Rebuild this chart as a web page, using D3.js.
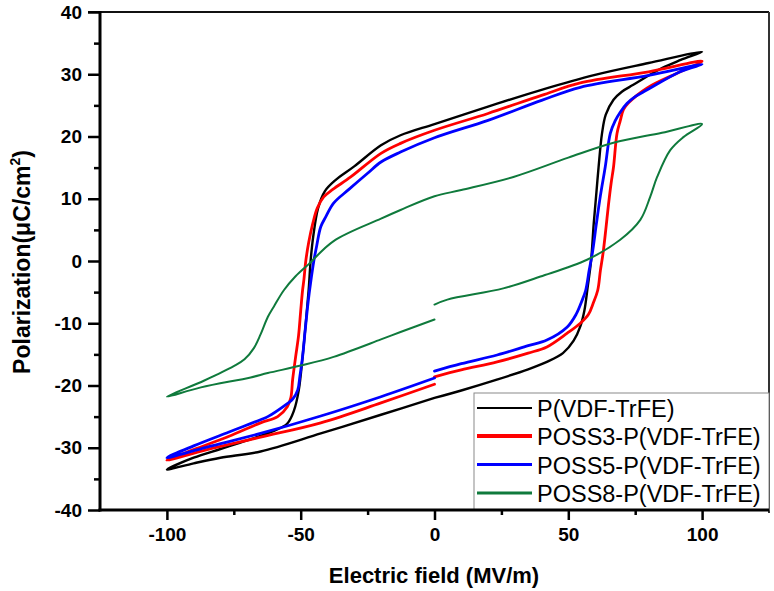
<!DOCTYPE html>
<html>
<head>
<meta charset="utf-8">
<script src="https://cdn.jsdelivr.net/npm/d3@7"></script>
<style>
  html, body { margin: 0; padding: 0; background: #fff; }
  svg { display: block; font-family: Arial, "Liberation Sans", sans-serif; }
</style>
</head>
<body>
<svg id="chart" width="774" height="591"></svg>
<script>
// ---------------- data ----------------
const seriesNames = ["P(VDF-TrFE)", "POSS3-P(VDF-TrFE)", "POSS5-P(VDF-TrFE)", "POSS8-P(VDF-TrFE)"];
const fieldTicks = [-100, -50, 0, 50, 100];
const fieldMinorTicks = [-75, -25, 25, 75];
const polTicks = [-40, -30, -20, -10, 0, 10, 20, 30, 40];
const polMinorTicks = [-35, -25, -15, -5, 5, 15, 25, 35];

// Each loop: start at E=0 on the lower branch, up to +100, back along the upper branch to -100, then up to 0.
const eBlack = [0, 10, 23, 35, 42, 48, 52, 54.5, 56, 57.3, 58.5, 59.5, 60.5, 61.3, 62.6, 64, 66.9, 70, 74.3, 85, 92, 100,
  80, 60, 40, 20, 0, -12.7, -20, -30, -37, -41, -43.5, -45.3, -46.3, -47, -48, -49.3, -50.7, -52.5, -55, -60, -70, -80, -90, -100,
  -90, -80, -65, -42.5, -20, 0];
const pBlack = [-22.0, -20.8, -19.1, -17.4, -16.2, -14.8, -12.8, -10.5, -8, -4, 0, 6, 11, 15, 20.5, 23.5, 25.9, 27.2, 28.3, 31.0, 32.3, 33.6,
  31.8, 29.9, 27.5, 24.8, 22.0, 20.2, 18.6, 15.2, 13.0, 11.2, 8.5, 4, 0, -4.5, -9.5, -15.4, -20.7, -24, -26.1, -27.3, -28.8, -30.2, -31.6, -33.5,
  -32.5, -31.6, -30.6, -27.7, -24.7, -22.0];

const eRed = [0, 10, 23.4, 35, 42, 49.6, 54.5, 57.5, 59.3, 61, 62, 63, 64, 65, 66, 66.9, 68.2, 69.4, 70.6, 72.5, 79.5, 91.8, 100,
  80, 54.5, 40, 20, 0, -12.7, -20, -31.3, -38, -41.4, -43.8, -45.5, -47, -48.1, -48.8, -49.3, -50, -50.8, -51.9, -53, -53.7, -55, -58.6, -65, -77, -90, -100,
  -85, -65, -42.5, -20, 0];
const pRed = [-18.6, -17.5, -16.2, -14.8, -13.8, -11.6, -10.0, -8.6, -6.8, -4.7, -1.5, 1.3, 5, 9, 12.5, 15.1, 20.5, 22.5, 24.3, 25.4, 27.8, 30.4, 32.1,
  30.4, 28.6, 26.6, 23.7, 21.0, 18.9, 17.3, 13.5, 11.5, 10.3, 8.5, 6.0, 3, 0, -3, -4.7, -8, -12, -15.4, -19, -22.0, -23.4, -25, -26.0, -28.2, -30.3, -32.0,
  -30.3, -28.3, -26.0, -22.8, -19.8];

const eBlue = [0, 10, 23.4, 35, 42, 49.6, 53, 55, 56.5, 57.8, 59, 60.5, 62, 63.8, 65.7, 67.5, 69.4, 71.9, 75, 79.5, 91.8, 100,
  80, 54.5, 40, 20, 0, -12.7, -20, -25, -32, -37.7, -40.5, -42.5, -44, -45.1, -46.3, -47.2, -48.3, -49.3, -50.3, -51.1, -53, -55, -62.3, -65, -77, -90, -100,
  -85, -65, -42.5, -20, 0];
const pBlue = [-17.7, -16.5, -15.1, -13.6, -12.7, -10.6, -8.5, -6.5, -4.7, -1.5, 1.3, 6, 10.5, 15.1, 20.5, 22.5, 23.9, 25.3, 26.4, 27.5, 30.4, 31.6,
  29.8, 27.9, 25.8, 22.6, 19.8, 17.5, 15.9, 14.1, 11.5, 9.3, 7.2, 5.5, 2.5, 0, -3.5, -6.5, -11, -15.4, -18.5, -20.7, -22.2, -22.9, -25.0, -25.5, -27.5, -29.7, -31.6,
  -29.9, -27.7, -24.9, -21.8, -18.8];

const eGreen = [0, 4.8, 25.7, 39.6, 57, 69.4, 76.9, 80.6, 83.2, 88.1, 93, 100,
  85, 66.9, 50, 29.5, 10, 0, -12.7, -20, -37.7, -47, -52, -56.3, -60, -62.3, -65, -67.5, -71, -75, -86, -100,
  -87.3, -68.7, -62.3, -50, -37.7, -20, -12.7, 0];
const pGreen = [-7.0, -6.2, -4.4, -2.5, 0.2, 3.4, 6.6, 10.3, 13.5, 17.8, 19.9, 22.0,
  20.6, 19.0, 16.6, 13.5, 11.4, 10.4, 8.2, 6.8, 3.2, -0.5, -2.5, -4.7, -7.3, -9.0, -11.8, -14.0, -15.8, -16.9, -19.2, -21.8,
  -20.3, -18.7, -18.0, -16.8, -15.4, -12.6, -11.4, -9.4];

// ---------------- chart ----------------
const svg = d3.select("#chart");
const W = 774, H = 591;
const mLeft = 100, mRight = 769, mTop = 12, mBottom = 510;

svg.append("rect").attr("width", W).attr("height", H).attr("fill", "#fff");

const x = d3.scaleLinear().domain([-125, 125]).range([mLeft, mRight]);
const y = d3.scaleLinear().domain([-40, 40]).range([mBottom, mTop]);

const seriesData = [
  { name: seriesNames[0], e: eBlack, p: pBlack, color: "#000000", width: 2.4, legendWidth: 2.2 },
  { name: seriesNames[1], e: eRed, p: pRed, color: "#ff0000", width: 2.8, legendWidth: 4 },
  { name: seriesNames[2], e: eBlue, p: pBlue, color: "#0000ff", width: 2.8, legendWidth: 2.8 },
  { name: seriesNames[3], e: eGreen, p: pGreen, color: "#0f7a3c", width: 2.0, legendWidth: 3 }
];

const line = d3.line()
  .x(d => x(d[0]))
  .y(d => y(d[1]))
  .curve(d3.curveCatmullRom.alpha(0.5));

seriesData.forEach(s => {
  const pts = s.e.map((v, i) => [v, s.p[i]]);
  svg.append("path")
    .attr("d", line(pts))
    .attr("fill", "none")
    .attr("stroke", s.color)
    .attr("stroke-width", s.width)
    .attr("stroke-linejoin", "round")
    .attr("stroke-linecap", "round");
});

// frame (top and right)
svg.append("line").attr("x1", 88).attr("x2", mRight).attr("y1", mTop).attr("y2", mTop)
  .attr("stroke", "#111").attr("stroke-width", 2);
svg.append("line").attr("x1", mRight).attr("x2", mRight).attr("y1", mTop).attr("y2", mBottom + 3)
  .attr("stroke", "#333").attr("stroke-width", 2);

// legend
const lgX = 474, lgY = 393;
svg.append("rect").attr("x", lgX).attr("y", lgY).attr("width", mRight - lgX).attr("height", mBottom - lgY)
  .attr("fill", "#fff").attr("stroke", "#8a8a8a").attr("stroke-width", 1);
const baselines = [417, 445, 473.5, 502];
seriesData.forEach((s, i) => {
  const by = baselines[i];
  svg.append("line").attr("x1", 477).attr("x2", 532).attr("y1", by - 9).attr("y2", by - 9)
    .attr("stroke", s.color).attr("stroke-width", s.legendWidth);
  svg.append("text").attr("x", 537).attr("y", by)
    .attr("font-size", 23.5).attr("fill", "#000").text(s.name);
});

// axes
const fmt = d => String(d);
const yAxis = d3.axisLeft(y).tickValues(polTicks).tickFormat(fmt).tickSize(12).tickPadding(6).tickSizeOuter(0);
const yMinor = d3.axisLeft(y).tickValues(polMinorTicks).tickSize(6).tickFormat("").tickSizeOuter(0);
const xAxis = d3.axisBottom(x).tickValues(fieldTicks).tickFormat(fmt).tickSize(10).tickPadding(8).tickSizeOuter(0);
const xMinor = d3.axisBottom(x).tickValues(fieldMinorTicks).tickSize(5).tickFormat("").tickSizeOuter(0);

function styleAxis(g) {
  g.select(".domain").remove();
  g.selectAll(".tick line").attr("stroke", "#000").attr("stroke-width", 2.5);
  g.selectAll(".tick text").attr("font-size", 19).attr("font-weight", "bold").attr("fill", "#000")
    .attr("font-family", "Arial, 'Liberation Sans', sans-serif");
}
svg.append("g").attr("transform", `translate(${mLeft},0)`).call(yAxis).call(styleAxis);
svg.append("g").attr("transform", `translate(${mLeft},0)`).call(yMinor).call(styleAxis);
svg.append("g").attr("transform", `translate(0,${mBottom})`).call(xAxis).call(styleAxis);
svg.append("g").attr("transform", `translate(0,${mBottom})`).call(xMinor).call(styleAxis);

// axis lines
svg.append("line").attr("x1", mLeft).attr("x2", mLeft).attr("y1", mTop - 1).attr("y2", mBottom + 1.5)
  .attr("stroke", "#000").attr("stroke-width", 3);
svg.append("line").attr("x1", mLeft - 1.5).attr("x2", mRight).attr("y1", mBottom).attr("y2", mBottom)
  .attr("stroke", "#000").attr("stroke-width", 3);

// axis titles
svg.append("text").attr("x", 434).attr("y", 583).attr("text-anchor", "middle")
  .attr("font-size", 22).attr("font-weight", "bold").text("Electric field (MV/m)");

const yt = svg.append("text").attr("transform", "translate(30,262) rotate(-90)")
  .attr("text-anchor", "middle").attr("font-size", 23).attr("font-weight", "bold");
yt.append("tspan").text("Polarization(\u03bcC/cm");
yt.append("tspan").attr("font-size", 14).attr("dy", -10).text("2");
yt.append("tspan").attr("dy", 10).text(")");
</script>
</body>
</html>
